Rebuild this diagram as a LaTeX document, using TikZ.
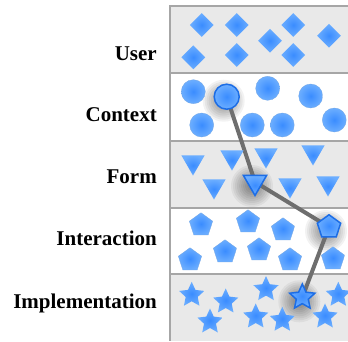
\documentclass[tikz,border=0pt]{standalone}
\usepackage{fontspec}
\setmainfont{Liberation Serif}
\usetikzlibrary{shapes.geometric}
\pgfdeclarelayer{bg}
\pgfdeclarelayer{shad}
\pgfdeclarelayer{mid}
\pgfsetlayers{bg,shad,mid,main}
\definecolor{bandgray}{HTML}{E9E9E9}
\definecolor{rulegray}{HTML}{A6A6A6}
\definecolor{blueC}{HTML}{3A8CFF}
\definecolor{blueE}{HTML}{6CAEFF}
\definecolor{hiline}{HTML}{1C6DE6}
\definecolor{conngray}{HTML}{6E6E6E}
\tikzset{
  lbl/.style={font=\bfseries\fontsize{21}{24}\selectfont, anchor=base east, inner sep=0pt},
  shp/.style={shading=radial, inner color=blueC, outer color=blueE, inner sep=0pt, draw=blueE!80!gray, line width=0.3pt},
  dia/.style={shp, diamond, minimum width=24pt, minimum height=24pt, draw=none},
  circ/.style={shp, circle, minimum size=24pt},
  tri/.style={shp, regular polygon, regular polygon sides=3, shape border rotate=180, minimum size=27pt, draw=none},
  pent/.style={shp, regular polygon, regular polygon sides=5, minimum size=24.5pt},
  str/.style={shp, star, star points=5, star point ratio=2.1, minimum size=26.5pt, draw=none},
  hi/.style={draw=hiline, line width=1.5pt},
  conn/.style={draw=conngray, line width=4pt},
  sep/.style={draw=rulegray, line width=2pt},
  shadowdisc/.style={fill=black, fill opacity=0.05, draw=none}
}
\newcommand{\softshadow}[1]{%
  \begin{pgfonlayer}{shad}
  \foreach \r in {5,7,...,21} {
    \fill[shadowdisc] ([xshift=-3pt,yshift=-4pt]#1.center) circle[radius=\r pt];
  }
  \end{pgfonlayer}}
\begin{document}
\begin{tikzpicture}[x=1pt,y=-1pt]
\useasboundingbox (0,0) rectangle (348,341);
\begin{pgfonlayer}{bg}
\fill[bandgray] (170,6) rectangle (348,73);
\fill[white] (170,73) rectangle (348,141);
\fill[bandgray] (170,141) rectangle (348,208);
\fill[white] (170,208) rectangle (348,274);
\fill[bandgray] (170,274) rectangle (348,341);
\draw[sep] (170,6) -- (348,6);
\draw[sep] (170,73) -- (348,73);
\draw[sep] (170,141) -- (348,141);
\draw[sep] (170,208) -- (348,208);
\draw[sep] (170,274) -- (348,274);
\draw[draw=rulegray, line width=2.5pt] (170,5) -- (170,341);
\end{pgfonlayer}

\node[lbl] (lu) at (157,60.5) {User};
\node[lbl] (lc) at (157,121.5) {Context};
\node[lbl] (lf) at (157,183) {Form};
\node[lbl] (li) at (157,245) {Interaction};
\node[lbl] (lm) at (157,308) {Implementation};

% User diamonds
\node[dia] (d1) at (201.7,25) {};
\node[dia] (d2) at (236.7,25) {};
\node[dia] (d3) at (293.3,25) {};
\node[dia] (d4) at (329,35.7) {};
\node[dia] (d5) at (270,40.7) {};
\node[dia] (d6) at (193.3,57.3) {};
\node[dia] (d7) at (236.7,55) {};
\node[dia] (d8) at (293.3,55) {};

% Context circles
\node[circ] (c1) at (193.3,91.7) {};
\node[circ] (c2) at (267.7,88.3) {};
\node[circ] (c3) at (310.7,96) {};
\node[circ] (c4) at (201.7,125) {};
\node[circ] (c5) at (252.3,125) {};
\node[circ] (c6) at (282.3,125) {};
\node[circ] (c7) at (334.3,120) {};

% Form triangles
\node[tri] (t1) at (193,162) {};
\node[tri] (t2) at (232,157) {};
\node[tri] (t3) at (266,155) {};
\node[tri] (t4) at (313,152) {};
\node[tri] (t5) at (214,186) {};
\node[tri] (t6) at (290,185) {};
\node[tri] (t7) at (328,183) {};

% Interaction pentagons
\node[pent] (p1) at (201,225) {};
\node[pent] (p2) at (248,222) {};
\node[pent] (p3) at (283,230) {};
\node[pent] (p4) at (190,260) {};
\node[pent] (p5) at (225,252) {};
\node[pent] (p6) at (259,250) {};
\node[pent] (p7) at (290,260) {};
\node[pent] (p8) at (333,259) {};

% Implementation stars
\node[str] (s1) at (191.7,295) {};
\node[str] (s2) at (225.7,301.7) {};
\node[str] (s3) at (266,289.3) {};
\node[str] (s4) at (338.3,295) {};
\node[str] (s5) at (210,321.7) {};
\node[str] (s6) at (255.7,316.7) {};
\node[str] (s7) at (282.3,320) {};
\node[str] (s8) at (325,316.7) {};

% highlighted path
\node[circ, hi, minimum size=25pt] (hc) at (226.7,96.7) {};
\node[tri, hi] (ht) at (255,182) {};
\node[pent, hi] (hp) at (329,227) {};
\node[str, hi] (hs) at (302.3,297.3) {};
\softshadow{hc}
\softshadow{ht}
\softshadow{hp}
\softshadow{hs}
\begin{pgfonlayer}{mid}
\draw[conn] (hc.center) -- (ht.center) -- (hp.center) -- (hs.center);
\end{pgfonlayer}
\end{tikzpicture}
\end{document}
